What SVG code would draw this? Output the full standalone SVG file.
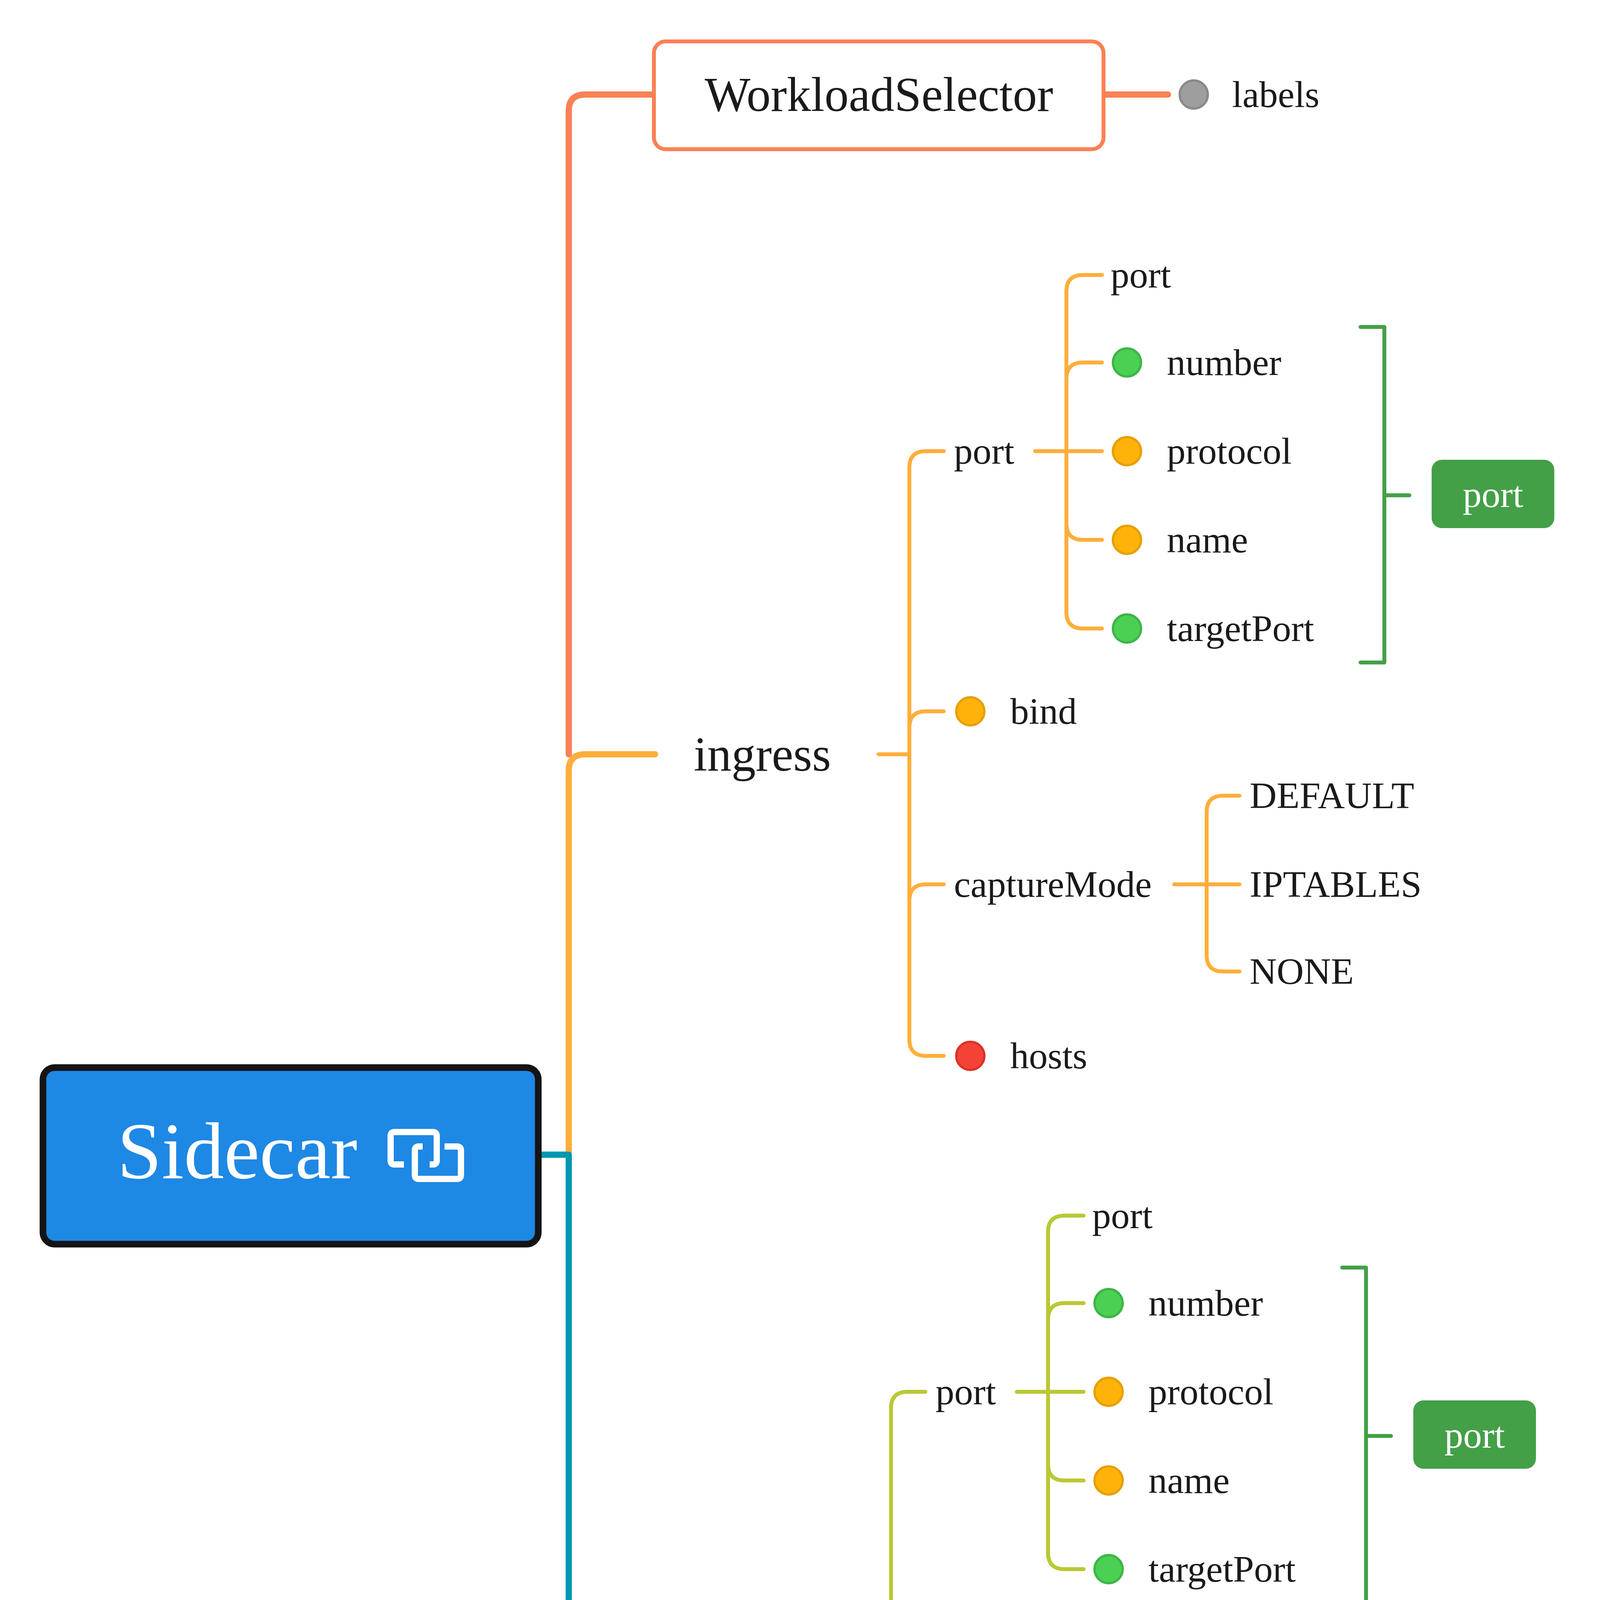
<svg xmlns="http://www.w3.org/2000/svg" width="4502" height="5972" viewBox="0 0 4502 5972">
<style>
.t{font-family:"Liberation Serif","DejaVu Serif",serif;fill:#1a1a1a}
.m{font-size:96px}.b{font-size:124px}
.s{font-family:"Liberation Sans",Arial,sans-serif;fill:#333;font-size:83px}
.ln{fill:none;stroke-linecap:round;stroke-linejoin:round}
.w10{stroke-width:10}.w16{stroke-width:16}
.or{stroke:#FFAE3B}.lm{stroke:#B9C834}.sa{stroke:#FA8155}.te{stroke:#0097B2}.gb{stroke:#43A047}
.dg{fill:#4CD053;stroke:#3DB548;stroke-width:6}
.do{fill:#FFB30A;stroke:#E6A000;stroke-width:6}
.dr{fill:#F44336;stroke:#DD3228;stroke-width:6}
.dm{fill:#9E9E9E;stroke:#8A8A8A;stroke-width:6}
</style>
<g id="connectors">
<path class="ln w16 sa" d="M1674 242H1498Q1456 242 1456 284V1931M2825 242H2990"/>
<path class="ln w16 or" d="M1456 2956V1973Q1456 1931 1498 1931H1677"/>
<path class="ln w16 te" d="M1380 2956H1456V5592Q1456 5634 1498 5634H1677M3029 5634H3203"/>
<path class="ln w16 lm" d="M1456 4293Q1456 4335 1498 4335H1677"/>
<path class="ln w10 te" d="M3464 5634H3566M3642 5520H3608Q3566 5520 3566 5562V5705Q3566 5747 3608 5747H3642"/>
<g>
<path class="ln w10 or" d="M2249 1931H2328M2416 1155H2370Q2328 1155 2328 1197V2661Q2328 2703 2370 2703H2416M2328 1863Q2328 1821 2370 1821H2416M2328 2306Q2328 2264 2370 2264H2416"/>
<path class="ln w10 or" d="M2650 1155H2821M2821 704H2772Q2730 704 2730 746V1567Q2730 1609 2772 1609H2821M2730 970Q2730 928 2772 928H2821M2730 1340Q2730 1382 2772 1382H2821"/>
<path class="ln w10 or" d="M3006 2264H3173M3173 2037H3131Q3089 2037 3089 2079V2445Q3089 2487 3131 2487H3173"/>
<path class="ln w10 gb" d="M3483 837H3544V1696H3483M3544 1268H3608"/>
</g>
<g transform="translate(-47,2408)">
<path class="ln w10 lm" d="M2249 1931H2328M2416 1155H2370Q2328 1155 2328 1197V2661Q2328 2703 2370 2703H2416M2328 1863Q2328 1821 2370 1821H2416M2328 2306Q2328 2264 2370 2264H2416"/>
<path class="ln w10 lm" d="M2650 1155H2821M2821 704H2772Q2730 704 2730 746V1567Q2730 1609 2772 1609H2821M2730 970Q2730 928 2772 928H2821M2730 1340Q2730 1382 2772 1382H2821"/>
<path class="ln w10 lm" d="M3006 2264H3173M3173 2037H3131Q3089 2037 3089 2079V2445Q3089 2487 3131 2487H3173"/>
<path class="ln w10 gb" d="M3483 837H3544V1696H3483M3544 1268H3608"/>
</g>
</g>
<g id="sidecar">
<rect x="110" y="2733" width="1268" height="452" rx="30" fill="#1E88E5" stroke="#141414" stroke-width="17"/>
<text x="300" y="3016" style="font-family:'Liberation Serif',serif;font-size:205px;fill:#fff">Sidecar</text>
<path d="M1034 2981H1010Q1000 2981 1000 2971V2908Q1000 2898 1010 2898H1108Q1118 2898 1118 2908V2971Q1118 2981 1108 2981H1100M1138 2935H1170Q1180 2935 1180 2945V3008Q1180 3018 1170 3018H1072Q1062 3018 1062 3008V2945Q1062 2935 1072 2935H1082" fill="none" stroke="#fff" stroke-width="16"/>
</g>
<g id="workloadselector">
<rect x="1674" y="106" width="1151" height="276" rx="30" fill="#fff" stroke="#FA8155" stroke-width="10"/>
<text class="t b" x="2250" y="284" text-anchor="middle">WorkloadSelector</text>
</g>
<g id="labels"><circle class="dm" cx="3056" cy="242" r="36"/><text class="t m" x="3154" y="274">labels</text></g>
<g id="ingress"><text class="t b" x="1776" y="1973">ingress</text></g>
<g id="ingress-children">
<text class="t m" x="2442" y="1187">port</text>
<circle class="do" cx="2484" cy="1821" r="36"/><text class="t m" x="2586" y="1853">bind</text>
<text class="t m" x="2442" y="2296">captureMode</text>
<circle class="dr" cx="2484" cy="2703" r="36"/><text class="t m" x="2586" y="2735">hosts</text>
<text class="t m" x="2843" y="736">port</text>
<circle class="dg" cx="2885" cy="928" r="36"/><text class="t m" x="2987" y="960">number</text>
<circle class="do" cx="2885" cy="1155" r="36"/><text class="t m" x="2987" y="1187">protocol</text>
<circle class="do" cx="2885" cy="1382" r="36"/><text class="t m" x="2987" y="1414">name</text>
<circle class="dg" cx="2885" cy="1609" r="36"/><text class="t m" x="2987" y="1641">targetPort</text>
<text class="t m" x="3199" y="2069">DEFAULT</text>
<text class="t m" x="3199" y="2296">IPTABLES</text>
<text class="t m" x="3199" y="2519">NONE</text>
<rect x="3665" y="1177" width="314" height="175" rx="26" fill="#43A047"/>
<text class="t m" x="3822" y="1298" text-anchor="middle" style="fill:#fff">port</text>
</g>
<g id="egress"><text class="t b" x="1776" y="4377">egress</text></g>
<g id="egress-children" transform="translate(-47,2408)">
<text class="t m" x="2442" y="1187">port</text>
<circle class="do" cx="2484" cy="1821" r="36"/><text class="t m" x="2586" y="1853">bind</text>
<text class="t m" x="2442" y="2296">captureMode</text>
<circle class="dr" cx="2484" cy="2703" r="36"/><text class="t m" x="2586" y="2735">hosts</text>
<text class="t m" x="2843" y="736">port</text>
<circle class="dg" cx="2885" cy="928" r="36"/><text class="t m" x="2987" y="960">number</text>
<circle class="do" cx="2885" cy="1155" r="36"/><text class="t m" x="2987" y="1187">protocol</text>
<circle class="do" cx="2885" cy="1382" r="36"/><text class="t m" x="2987" y="1414">name</text>
<circle class="dg" cx="2885" cy="1609" r="36"/><text class="t m" x="2987" y="1641">targetPort</text>
<text class="t m" x="3199" y="2069">DEFAULT</text>
<text class="t m" x="3199" y="2296">IPTABLES</text>
<text class="t m" x="3199" y="2519">NONE</text>
<rect x="3665" y="1177" width="314" height="175" rx="26" fill="#43A047"/>
<text class="t m" x="3822" y="1298" text-anchor="middle" style="fill:#fff">port</text>
</g>
<g id="outbound">
<text class="t b" x="1776" y="5676">outboundTrafficPolicy</text>
<text class="t m" x="3226" y="5666">mode</text>
<text class="t m" x="3676" y="5552">REGISTRY_ONLY</text>
<text class="t m" x="3676" y="5779">ALLOW_ANY</text>
</g>
<g id="legend">
<rect x="212" y="4572" width="950" height="1077" rx="22" fill="#fff" stroke="#CFCFCF" stroke-width="5"/>
<line x1="212" y1="4748" x2="1162" y2="4748" stroke="#CFCFCF" stroke-width="5"/>
<text class="s" x="687" y="4690" text-anchor="middle" style="font-size:90px">Legend</text>
<circle class="dr" cx="360" cy="4877" r="55"/><text class="s" x="504" y="4906">string[]</text>
<circle class="do" cx="360" cy="5081" r="55"/><text class="s" x="504" y="5110">string</text>
<circle class="dg" cx="360" cy="5285" r="55"/><text class="s" x="504" y="5314">integer</text>
<circle class="dm" cx="360" cy="5486" r="55"/><text class="s" x="504" y="5515">map</text>
</g>
</svg>
